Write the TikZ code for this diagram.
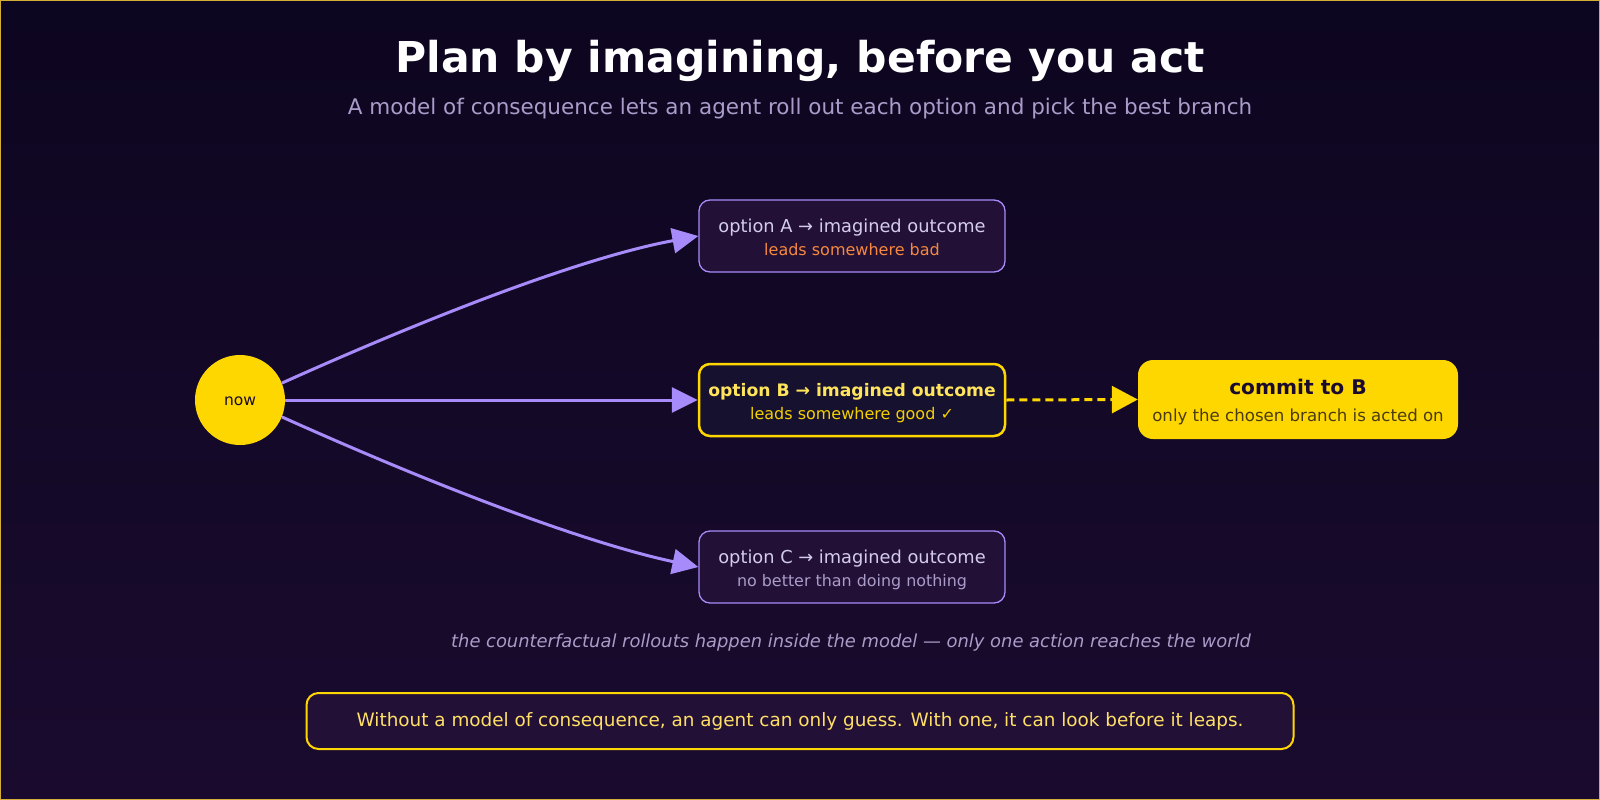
\documentclass[tikz,border=0pt]{standalone}
\usepackage{fontspec}
\setmainfont{DejaVu Sans}
\usetikzlibrary{arrows.meta}
\definecolor{bgtop}{HTML}{0D0620}
\definecolor{bgbot}{HTML}{1A0B2E}
\definecolor{frame}{HTML}{D4AF37}
\definecolor{gold}{HTML}{FFD700}
\definecolor{lav}{HTML}{A78BFA}
\definecolor{boxfill}{HTML}{231036}
\definecolor{boxfillB}{HTML}{15112E}
\definecolor{muted}{HTML}{A99CC9}
\definecolor{boxtxt}{HTML}{D4CCEE}
\definecolor{badtxt}{HTML}{F5883E}
\definecolor{goodtitle}{HTML}{FFE45C}
\definecolor{goodsub}{HTML}{F5D000}
\definecolor{darktxt}{HTML}{1A0B2E}
\definecolor{commitsub}{HTML}{4A3B10}
\definecolor{foottxt}{HTML}{FFE066}
\begin{document}
\begin{tikzpicture}[x=1pt,y=-1pt,
  optbox/.style={draw=lav, line width=1.3pt, fill=boxfill, rounded corners=11pt,
    minimum width=306pt, minimum height=72pt, inner sep=0pt},
  goodbox/.style={draw=gold, line width=2.5pt, fill=boxfillB, rounded corners=11pt,
    minimum width=306pt, minimum height=72pt, inner sep=0pt},
  commitbox/.style={fill=gold, rounded corners=15pt,
    minimum width=320pt, minimum height=79pt, inner sep=0pt},
  footbox/.style={draw=gold, line width=2pt, fill=boxfill, rounded corners=12pt,
    minimum width=987pt, minimum height=56pt, inner sep=0pt},
  txt/.style={anchor=base, inner sep=0pt},
  branch/.style={draw=lav, line width=3pt, -{Triangle[length=26pt,width=25pt]}},
  choose/.style={draw=gold, line width=3pt, dash pattern=on 8pt off 5pt,
    -{Triangle[length=26pt,width=27pt]}}
]
\useasboundingbox (0,0) rectangle (1600,800);
\shade[top color=bgtop, bottom color=bgbot] (0,0) rectangle (1600,800);
\draw[frame, line width=1pt] (0.5,0.5) rectangle (1599.5,799.5);

% titles
\node[txt, text=white] (title) at (800,73) {\fontsize{42.5}{50}\selectfont\bfseries Plan by imagining, before you act};
\node[txt, text=muted] (subtitle) at (800,114) {\fontsize{21.5}{26}\selectfont A model of consequence lets an agent roll out each option and pick the best branch};

% now
\node[circle, fill=gold, minimum size=90pt, inner sep=0pt] (now) at (240,400) {};
\node[txt, text=darktxt] (nowt) at (240,405) {\fontsize{15.5}{18}\selectfont now};

% option boxes
\node[optbox] (optA) at (852,236) {};
\node[txt, text=boxtxt] (optAt) at (852,232) {\fontsize{17.8}{20}\selectfont option A → imagined outcome};
\node[txt, text=badtxt] (optAs) at (852,255) {\fontsize{16}{18}\selectfont leads somewhere bad};

\node[goodbox] (optB) at (852,400) {};
\node[txt, text=goodtitle] (optBt) at (852,396) {\fontsize{17.2}{20}\selectfont\bfseries option B → imagined outcome};
\node[txt, text=goodsub] (optBs) at (852,419) {\fontsize{16}{18}\selectfont leads somewhere good ✓};

\node[optbox] (optC) at (852,567) {};
\node[txt, text=boxtxt] (optCt) at (852,563) {\fontsize{17.8}{20}\selectfont option C → imagined outcome};
\node[txt, text=muted] (optCs) at (852,586) {\fontsize{15.9}{18}\selectfont no better than doing nothing};

% commit
\node[commitbox] (commit) at (1298,399.5) {};
\node[txt, text=darktxt] (committ) at (1298,394) {\fontsize{20.2}{24}\selectfont\bfseries commit to B};
\node[txt, text=commitsub] (commits) at (1298,421) {\fontsize{16.6}{19}\selectfont only the chosen branch is acted on};

% connectors
\draw[branch] (now.22) .. controls (458,304) and (595,255) .. (optA.west);
\draw[branch] (now.east) -- (optB.west);
\draw[branch] (now.-22) .. controls (458,496) and (595,545) .. (optC.west);
\draw[choose] (optB.east) -- (commit.west);

% caption
\node[txt, text=muted] (caption) at (851,647) {\fontsize{17.9}{21}\selectfont\itshape the counterfactual rollouts happen inside the model — only one action reaches the world};

% footer
\node[footbox] (foot) at (800,721) {};
\node[txt, text=foottxt] (foott) at (800,726) {\fontsize{18.4}{22}\selectfont Without a model of consequence, an agent can only guess. With one, it can look before it leaps.};
\end{tikzpicture}
\end{document}
